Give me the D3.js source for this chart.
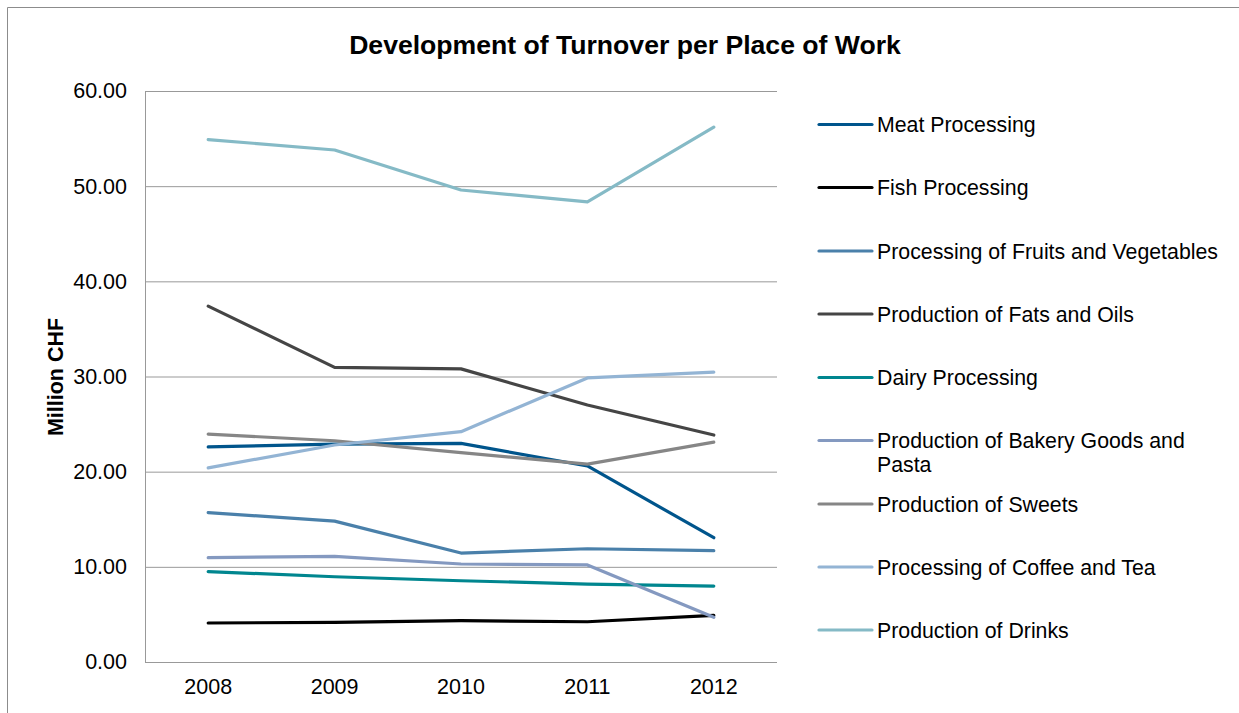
<!DOCTYPE html>
<html><head><meta charset="utf-8">
<script src="https://cdn.jsdelivr.net/npm/d3@7"></script>
<style>body{margin:0;background:#fff;} svg{display:block;font-family:"Liberation Sans",Arial,sans-serif;}</style>
</head><body>
<svg id="c" width="1239" height="713"></svg>
<script>
const years = ["2008","2009","2010","2011","2012"];
const seriesNames = ["Meat Processing","Fish Processing","Processing of Fruits and Vegetables","Production of Fats and Oils","Dairy Processing","Production of Bakery Goods and Pasta","Production of Sweets","Processing of Coffee and Tea","Production of Drinks"];
const meat = [22.6, 22.9, 22.97, 20.6, 13.06];
const fish = [4.1, 4.17, 4.34, 4.23, 4.9];
const fruits = [15.7, 14.8, 11.45, 11.9, 11.7];
const fats = [37.4, 30.96, 30.8, 27.0, 23.85];
const dairy = [9.5, 8.96, 8.54, 8.19, 7.98];
const bakery = [10.96, 11.1, 10.3, 10.2, 4.7];
const sweets = [23.95, 23.25, 22.0, 20.8, 23.1];
const coffee = [20.4, 22.8, 24.2, 29.85, 30.46];
const drinks = [54.9, 53.8, 49.6, 48.35, 56.2];
const yTicks = [0,10,20,30,40,50,60];
const colors = ["#00558C","#000000","#4A80AA","#454545","#00868F","#8499C0","#868686","#93B4D4","#85BAC6"];
const allValues = [meat,fish,fruits,fats,dairy,bakery,sweets,coffee,drinks];

const svg = d3.select("#c");
svg.append("path").attr("d","M7.5,713 V7.5 H1239").attr("fill","none").attr("stroke","#8c8c8c").attr("stroke-width",1);

const L=145, R=777, T=91, B=662;
const x = d3.scaleBand().domain(years).range([L,R]);
const y = d3.scaleLinear().domain([0,60]).range([B,T]);

svg.append("g").selectAll("line").data(yTicks).join("line")
  .attr("x1",L).attr("x2",R).attr("y1",d=>y(d)+0.5).attr("y2",d=>y(d)+0.5)
  .attr("stroke","#999").attr("stroke-width",1);
svg.append("line").attr("x1",L+0.5).attr("x2",L+0.5).attr("y1",T).attr("y2",B+0.5).attr("stroke","#999");

const yAxis = d3.axisLeft(y).tickValues(yTicks).tickFormat(d3.format(".2f")).tickSize(0).tickPadding(18);
const gy = svg.append("g").attr("transform",`translate(${L},0)`).call(yAxis);
gy.select(".domain").remove();
gy.selectAll("text").attr("font-size",21.5).attr("fill","#000").attr("font-family","Liberation Sans, Arial, sans-serif");

const xAxis = d3.axisBottom(x).tickSize(0).tickPadding(17);
const gx = svg.append("g").attr("transform",`translate(0,${B})`).call(xAxis);
gx.select(".domain").remove();
gx.selectAll("text").attr("font-size",21.5).attr("fill","#000").attr("font-family","Liberation Sans, Arial, sans-serif");

const line = d3.line().x((d,i)=>x(years[i])+x.bandwidth()/2).y(d=>y(d));
svg.append("g").selectAll("path").data(allValues).join("path")
  .attr("d",d=>line(d)).attr("fill","none")
  .attr("stroke",(d,i)=>colors[i]).attr("stroke-width",3.2)
  .attr("stroke-linejoin","round").attr("stroke-linecap","round");

svg.append("text").attr("x",625).attr("y",54).attr("text-anchor","middle")
  .attr("font-size",26.6).attr("font-weight","bold").text("Development of Turnover per Place of Work");

svg.append("text").attr("transform","translate(62.5,377) rotate(-90)").attr("text-anchor","middle")
  .attr("font-size",21.5).attr("font-weight","bold").text("Million CHF");

const legY = [124.5,187.5,251,314,377.5,440.5,504,567,630];
const lg = svg.append("g");
seriesNames.forEach((name,i)=>{
  const g = lg.append("g").attr("transform",`translate(0,${legY[i]})`);
  g.append("line").attr("x1",819).attr("x2",872).attr("y1",0).attr("y2",0)
    .attr("stroke",colors[i]).attr("stroke-width",3.2).attr("stroke-linecap","round");
  if(name==="Production of Bakery Goods and Pasta"){
    g.append("text").attr("x",877).attr("y",7.5).attr("font-size",21.3).text("Production of Bakery Goods and");
    g.append("text").attr("x",877).attr("y",31.5).attr("font-size",21.3).text("Pasta");
  } else {
    g.append("text").attr("x",877).attr("y",7.5).attr("font-size",21.3).text(name);
  }
});
</script>
</body></html>
